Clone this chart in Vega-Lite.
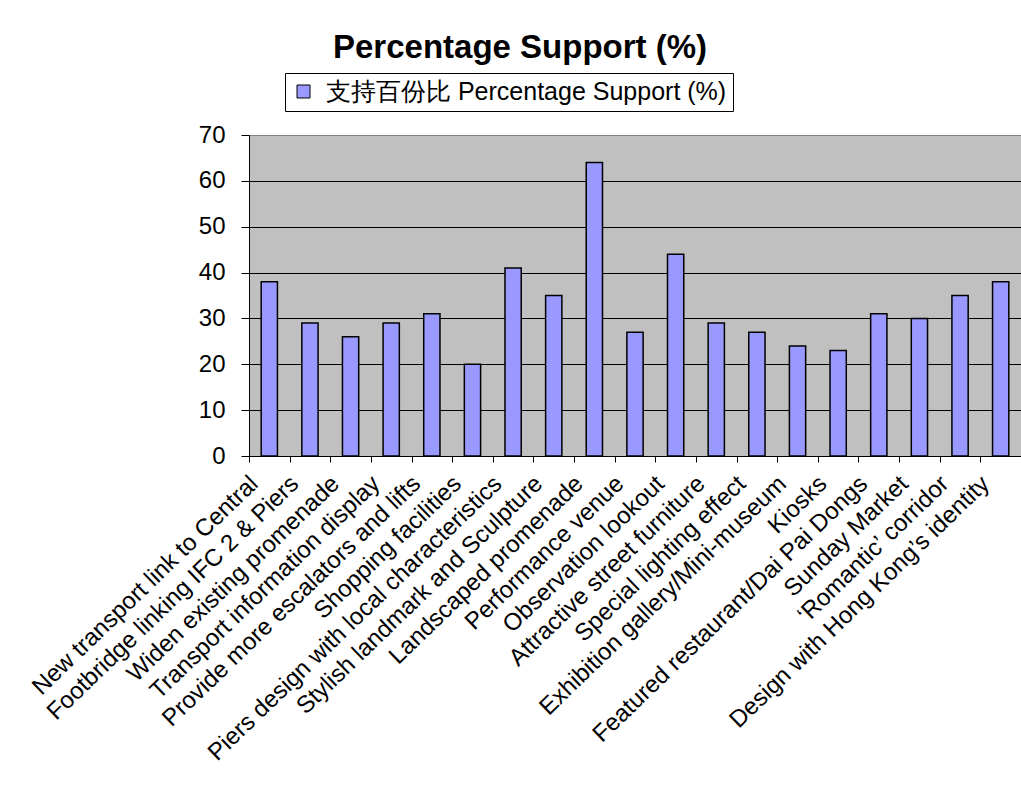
{
  "$schema": "https://vega.github.io/schema/vega-lite/v6.json",
  "autosize": {"type": "none"},
  "padding": {"left": 249, "top": 135, "right": 0, "bottom": 338},
  "width": 772,
  "height": 321,
  "background": "white",
  "title": {
    "text": "Percentage Support (%)",
    "font": "Liberation Sans",
    "fontSize": 33,
    "fontWeight": "bold",
    "color": "black",
    "anchor": "middle",
    "frame": "group",
    "dx": -115,
    "baseline": "alphabetic",
    "offset": -18
  },
  "data": {
    "values": [
      {"item": "New transport link to Central", "support": 38, "series": "支持百份比 Percentage Support (%)"},
      {"item": "Footbridge linking IFC 2 & Piers", "support": 29, "series": "支持百份比 Percentage Support (%)"},
      {"item": "Widen existing promenade", "support": 26, "series": "支持百份比 Percentage Support (%)"},
      {"item": "Transport information display", "support": 29, "series": "支持百份比 Percentage Support (%)"},
      {"item": "Provide more escalators and lifts", "support": 31, "series": "支持百份比 Percentage Support (%)"},
      {"item": "Shopping facilities", "support": 20, "series": "支持百份比 Percentage Support (%)"},
      {"item": "Piers design with local characteristics", "support": 41, "series": "支持百份比 Percentage Support (%)"},
      {"item": "Stylish landmark and Sculpture", "support": 35, "series": "支持百份比 Percentage Support (%)"},
      {"item": "Landscaped promenade", "support": 64, "series": "支持百份比 Percentage Support (%)"},
      {"item": "Performance venue", "support": 27, "series": "支持百份比 Percentage Support (%)"},
      {"item": "Observation lookout", "support": 44, "series": "支持百份比 Percentage Support (%)"},
      {"item": "Attractive street furniture", "support": 29, "series": "支持百份比 Percentage Support (%)"},
      {"item": "Special lighting effect", "support": 27, "series": "支持百份比 Percentage Support (%)"},
      {"item": "Exhibition gallery/Mini-museum", "support": 24, "series": "支持百份比 Percentage Support (%)"},
      {"item": "Kiosks", "support": 23, "series": "支持百份比 Percentage Support (%)"},
      {"item": "Featured restaurant/Dai Pai Dongs", "support": 31, "series": "支持百份比 Percentage Support (%)"},
      {"item": "Sunday Market", "support": 30, "series": "支持百份比 Percentage Support (%)"},
      {"item": "‘Romantic’ corridor", "support": 35, "series": "支持百份比 Percentage Support (%)"},
      {"item": "Design with Hong Kong’s identity", "support": 38, "series": "支持百份比 Percentage Support (%)"}
    ]
  },
  "mark": {"type": "bar", "stroke": "black", "strokeWidth": 1.5},
  "encoding": {
    "x": {
      "field": "item",
      "type": "nominal",
      "sort": null,
      "title": null,
      "scale": {"paddingInner": 0.6, "paddingOuter": 0.3},
      "axis": {
        "labelAngle": -44,
        "labelAlign": "right",
        "labelBaseline": "middle",
        "labelFont": "Liberation Sans",
        "labelFontSize": 24,
        "labelColor": "black",
        "labelPadding": 18,
        "labelLimit": 0,
        "labelOverlap": false,
        "tickOffset": -20.32,
        "labelOffset": 5,
        "tickSize": 6,
        "tickColor": "black",
        "domainColor": "black",
        "grid": false
      }
    },
    "y": {
      "field": "support",
      "type": "quantitative",
      "title": null,
      "scale": {"domain": [0, 70], "nice": false},
      "axis": {
        "values": [0, 10, 20, 30, 40, 50, 60, 70],
        "labelFont": "Liberation Sans",
        "labelFontSize": 24,
        "labelColor": "black",
        "labelPadding": 16,
        "tickSize": 8,
        "tickColor": "black",
        "domainColor": "black",
        "grid": true,
        "gridColor": {"condition": {"test": "datum.value == 70", "value": "#808080"}, "value": "black"},
        "gridOpacity": 1
      }
    },
    "color": {
      "field": "series",
      "type": "nominal",
      "scale": {"range": ["#9999FF"]},
      "legend": {
        "title": null,
        "orient": "none",
        "legendX": 36,
        "legendY": -62,
        "direction": "horizontal",
        "symbolType": "square",
        "symbolSize": 169,
        "symbolStrokeColor": "black",
        "symbolStrokeWidth": 1,
        "symbolOpacity": 1,
        "labelFont": "Liberation Sans",
        "labelFontSize": 25,
        "labelColor": "black",
        "labelOffset": 10,
        "labelLimit": 0,
        "padding": 6,
        "strokeColor": "black",
        "fillColor": "white"
      }
    }
  },
  "config": {
    "view": {"fill": "#C0C0C0", "stroke": "#808080", "strokeWidth": 1}
  }
}
